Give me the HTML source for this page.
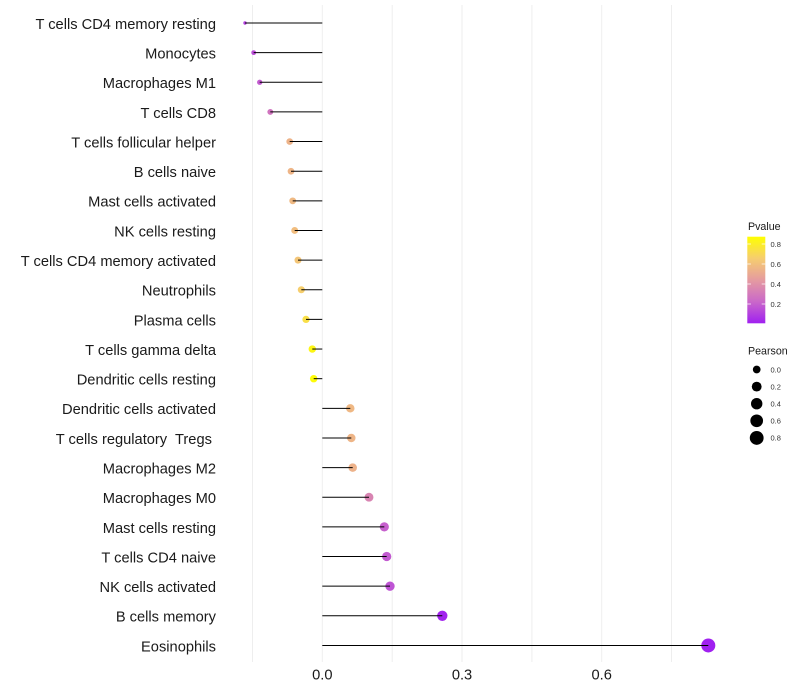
<!DOCTYPE html>
<html>
<head>
<meta charset="utf-8">
<style>
  html,body{margin:0;padding:0;background:#fff;}
  svg{display:block;}
  .yl{font-family:"Liberation Sans",sans-serif;font-size:14.67px;fill:#1a1a1a;text-anchor:end;white-space:pre;}
  .xl{font-family:"Liberation Sans",sans-serif;font-size:14.67px;fill:#1a1a1a;text-anchor:middle;}
  .lt{font-family:"Liberation Sans",sans-serif;font-size:10.67px;fill:#1a1a1a;}
  .ll{font-family:"Liberation Sans",sans-serif;font-size:7.5px;fill:#333;}
</style>
</head>
<body>
<svg width="800" height="700" viewBox="0 0 800 700" xmlns="http://www.w3.org/2000/svg">
  <defs>
    <linearGradient id="pg" x1="0" y1="1" x2="0" y2="0">
      <stop offset="0" stop-color="#A020F0"/>
      <stop offset="0.25" stop-color="#CA68C9"/>
      <stop offset="0.5" stop-color="#E59BA0"/>
      <stop offset="0.75" stop-color="#F6CD6F"/>
      <stop offset="1" stop-color="#FFFF00"/>
    </linearGradient>
  </defs>
  <rect x="0" y="0" width="800" height="700" fill="#fff"/>

  <!-- grid lines -->
  <g stroke="#eeeeee" stroke-width="1">
    <line x1="252.5" y1="5" x2="252.5" y2="662"/>
    <line x1="322.3" y1="5" x2="322.3" y2="662"/>
    <line x1="392.2" y1="5" x2="392.2" y2="662"/>
    <line x1="462" y1="5" x2="462" y2="662"/>
    <line x1="531.9" y1="5" x2="531.9" y2="662"/>
    <line x1="601.7" y1="5" x2="601.7" y2="662"/>
    <line x1="671.5" y1="5" x2="671.5" y2="662"/>
  </g>

  <!-- dots -->
  <g>
    <circle cx="245.0" cy="23.00" r="1.7" fill="rgb(179,64,223)"/>
    <circle cx="253.7" cy="52.64" r="2.42" fill="rgb(187,78,215)"/>
    <circle cx="259.7" cy="82.28" r="2.64" fill="rgb(195,91,208)"/>
    <circle cx="270.3" cy="111.92" r="2.95" fill="rgb(208,116,191)"/>
    <circle cx="289.7" cy="141.56" r="3.35" fill="rgb(237,179,137)"/>
    <circle cx="291.0" cy="171.20" r="3.37" fill="rgb(238,181,135)"/>
    <circle cx="292.7" cy="200.84" r="3.40" fill="rgb(239,185,131)"/>
    <circle cx="294.7" cy="230.48" r="3.44" fill="rgb(241,189,127)"/>
    <circle cx="298.0" cy="260.12" r="3.49" fill="rgb(243,197,119)"/>
    <circle cx="301.3" cy="289.76" r="3.55" fill="rgb(246,206,109)"/>
    <circle cx="306.0" cy="319.40" r="3.62" fill="rgb(249,223,72)"/>
    <circle cx="312.3" cy="349.04" r="3.72" fill="rgb(253,246,20)"/>
    <circle cx="313.7" cy="378.68" r="3.74" fill="rgb(254,252,8)"/>
    <circle cx="350.3" cy="408.32" r="4.23" fill="rgb(239,184,132)"/>
    <circle cx="351.3" cy="437.96" r="4.24" fill="rgb(238,181,135)"/>
    <circle cx="352.7" cy="467.60" r="4.26" fill="rgb(237,178,138)"/>
    <circle cx="369.0" cy="497.24" r="4.44" fill="rgb(216,132,178)"/>
    <circle cx="384.3" cy="526.88" r="4.61" fill="rgb(198,96,205)"/>
    <circle cx="386.7" cy="556.52" r="4.63" fill="rgb(194,90,208)"/>
    <circle cx="390.0" cy="586.16" r="4.67" fill="rgb(190,84,212)"/>
    <circle cx="442.3" cy="615.80" r="5.16" fill="rgb(162,35,238)"/>
    <circle cx="708.3" cy="645.44" r="7.0" fill="rgb(160,32,240)"/>
  </g>

  <!-- segments -->
  <g stroke="#000" stroke-width="1">
    <line x1="322.3" y1="23.00" x2="245.0" y2="23.00"/>
    <line x1="322.3" y1="52.64" x2="253.7" y2="52.64"/>
    <line x1="322.3" y1="82.28" x2="259.7" y2="82.28"/>
    <line x1="322.3" y1="111.92" x2="270.3" y2="111.92"/>
    <line x1="322.3" y1="141.56" x2="289.7" y2="141.56"/>
    <line x1="322.3" y1="171.20" x2="291.0" y2="171.20"/>
    <line x1="322.3" y1="200.84" x2="292.7" y2="200.84"/>
    <line x1="322.3" y1="230.48" x2="294.7" y2="230.48"/>
    <line x1="322.3" y1="260.12" x2="298.0" y2="260.12"/>
    <line x1="322.3" y1="289.76" x2="301.3" y2="289.76"/>
    <line x1="322.3" y1="319.40" x2="306.0" y2="319.40"/>
    <line x1="322.3" y1="349.04" x2="312.3" y2="349.04"/>
    <line x1="322.3" y1="378.68" x2="313.7" y2="378.68"/>
    <line x1="322.3" y1="408.32" x2="350.3" y2="408.32"/>
    <line x1="322.3" y1="437.96" x2="351.3" y2="437.96"/>
    <line x1="322.3" y1="467.60" x2="352.7" y2="467.60"/>
    <line x1="322.3" y1="497.24" x2="369.0" y2="497.24"/>
    <line x1="322.3" y1="526.88" x2="384.3" y2="526.88"/>
    <line x1="322.3" y1="556.52" x2="386.7" y2="556.52"/>
    <line x1="322.3" y1="586.16" x2="390.0" y2="586.16"/>
    <line x1="322.3" y1="615.80" x2="442.3" y2="615.80"/>
    <line x1="322.3" y1="645.44" x2="708.3" y2="645.44"/>
  </g>

  <!-- y labels -->
  <g>
    <text class="yl" x="216" y="28.9">T cells CD4 memory resting</text>
    <text class="yl" x="216" y="58.5">Monocytes</text>
    <text class="yl" x="216" y="88.2">Macrophages M1</text>
    <text class="yl" x="216" y="117.8">T cells CD8</text>
    <text class="yl" x="216" y="147.5">T cells follicular helper</text>
    <text class="yl" x="216" y="177.1">B cells naive</text>
    <text class="yl" x="216" y="206.7">Mast cells activated</text>
    <text class="yl" x="216" y="236.4">NK cells resting</text>
    <text class="yl" x="216" y="266.0">T cells CD4 memory activated</text>
    <text class="yl" x="216" y="295.7">Neutrophils</text>
    <text class="yl" x="216" y="325.3">Plasma cells</text>
    <text class="yl" x="216" y="354.9">T cells gamma delta</text>
    <text class="yl" x="216" y="384.6">Dendritic cells resting</text>
    <text class="yl" x="216" y="414.2">Dendritic cells activated</text>
    <text class="yl" x="216" y="443.9">T cells regulatory&#160; Tregs&#160;</text>
    <text class="yl" x="216" y="473.5">Macrophages M2</text>
    <text class="yl" x="216" y="503.1">Macrophages M0</text>
    <text class="yl" x="216" y="532.8">Mast cells resting</text>
    <text class="yl" x="216" y="562.4">T cells CD4 naive</text>
    <text class="yl" x="216" y="592.1">NK cells activated</text>
    <text class="yl" x="216" y="621.7">B cells memory</text>
    <text class="yl" x="216" y="651.3">Eosinophils</text>
  </g>

  <!-- x labels -->
  <g>
    <text class="xl" x="322.3" y="679.3">0.0</text>
    <text class="xl" x="462" y="679.3">0.3</text>
    <text class="xl" x="601.7" y="679.3">0.6</text>
  </g>

  <!-- Pvalue legend -->
  <text class="lt" x="748" y="229.8">Pvalue</text>
  <rect x="747.3" y="236.7" width="18" height="86.6" fill="url(#pg)"/>
  <g stroke="#fff" stroke-width="0.8" opacity="0.9">
    <line x1="747.3" y1="244" x2="750.9" y2="244"/><line x1="761.7" y1="244" x2="765.3" y2="244"/>
    <line x1="747.3" y1="264" x2="750.9" y2="264"/><line x1="761.7" y1="264" x2="765.3" y2="264"/>
    <line x1="747.3" y1="284" x2="750.9" y2="284"/><line x1="761.7" y1="284" x2="765.3" y2="284"/>
    <line x1="747.3" y1="304" x2="750.9" y2="304"/><line x1="761.7" y1="304" x2="765.3" y2="304"/>
  </g>
  <text class="ll" x="770.5" y="246.8">0.8</text>
  <text class="ll" x="770.5" y="266.8">0.6</text>
  <text class="ll" x="770.5" y="286.8">0.4</text>
  <text class="ll" x="770.5" y="306.8">0.2</text>

  <!-- Pearson legend -->
  <text class="lt" x="748" y="354.5">Pearson</text>
  <circle cx="756.7" cy="369.5" r="3.86" fill="#000"/>
  <circle cx="756.7" cy="386.6" r="4.91" fill="#000"/>
  <circle cx="756.7" cy="403.7" r="5.70" fill="#000"/>
  <circle cx="756.7" cy="420.8" r="6.35" fill="#000"/>
  <circle cx="756.7" cy="437.9" r="6.92" fill="#000"/>
  <text class="ll" x="770.5" y="372.3">0.0</text>
  <text class="ll" x="770.5" y="389.4">0.2</text>
  <text class="ll" x="770.5" y="406.5">0.4</text>
  <text class="ll" x="770.5" y="423.6">0.6</text>
  <text class="ll" x="770.5" y="440.7">0.8</text>
</svg>
</body>
</html>
